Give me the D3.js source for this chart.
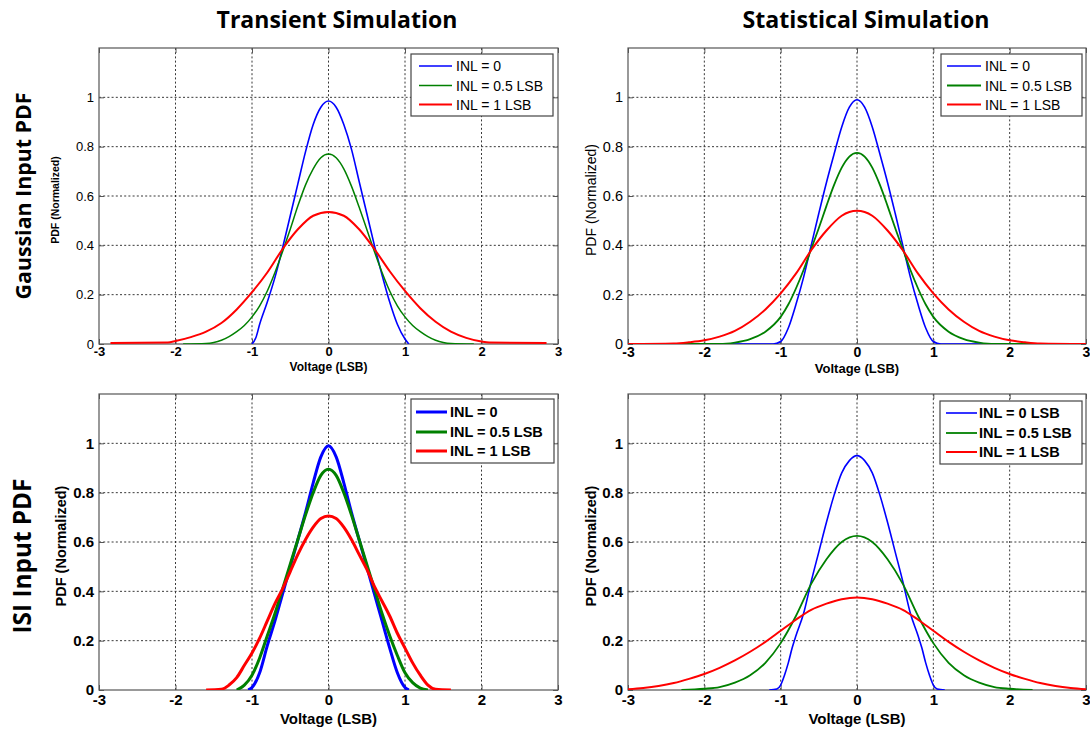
<!DOCTYPE html>
<html><head><meta charset="utf-8">
<script src="https://cdn.jsdelivr.net/npm/d3@7"></script>
<style>body{margin:0;background:#fff} svg{display:block}</style>
</head><body><svg id="c" width="1090" height="730"></svg>
<script>
// ---------- data ----------
const xTicks = [-3,-2,-1,0,1,2,3];
const xTickLabels = ["-3","-2","-1","0","1","2","3"];
const yTicks = [0,0.2,0.4,0.6,0.8,1];
const yTickLabels = ["0","0.2","0.4","0.6","0.8","1"];
const colTitles = ["Transient Simulation","Statistical Simulation"];
const rowTitles = ["Gaussian Input PDF","ISI Input PDF"];
const xAxisLabel = "Voltage (LSB)";
const yAxisLabel = "PDF (Normalized)";
const legendNames = ["INL = 0","INL = 0.5 LSB","INL = 1 LSB"];
const legendNamesISIStat = ["INL = 0 LSB","INL = 0.5 LSB","INL = 1 LSB"];
const seriesColors = ["#0000ff","#008000","#ff0000"];

// Transient simulation, Gaussian input
const tgBlue = [[-1.0,0],[-0.95,0.025],[-0.9,0.08],[-0.8,0.17],[-0.7,0.27],[-0.6,0.39],[-0.5,0.52],[-0.4,0.65],[-0.3,0.78],[-0.2,0.89],[-0.1,0.96],[0,0.985],[0.1,0.96],[0.2,0.89],[0.3,0.79],[0.4,0.66],[0.5,0.53],[0.6,0.40],[0.7,0.28],[0.8,0.17],[0.9,0.08],[1.0,0.02],[1.05,0]];
const tgGreen = [[-1.9,0],[-1.6,0.002],[-1.5,0.006],[-1.4,0.015],[-1.3,0.03],[-1.2,0.05],[-1.1,0.075],[-1.0,0.11],[-0.9,0.155],[-0.8,0.215],[-0.7,0.29],[-0.6,0.375],[-0.5,0.465],[-0.4,0.56],[-0.3,0.645],[-0.2,0.71],[-0.1,0.755],[0,0.77],[0.1,0.755],[0.2,0.71],[0.3,0.64],[0.4,0.555],[0.5,0.465],[0.6,0.375],[0.7,0.29],[0.8,0.215],[0.9,0.155],[1.0,0.11],[1.1,0.075],[1.2,0.05],[1.3,0.03],[1.4,0.015],[1.5,0.006],[1.6,0.002],[1.9,0]];
const tgRed = [[-2.85,0.004],[-2.1,0.006],[-2.0,0.012],[-1.8,0.028],[-1.6,0.05],[-1.4,0.085],[-1.2,0.14],[-1.0,0.21],[-0.8,0.29],[-0.6,0.385],[-0.4,0.465],[-0.2,0.52],[0,0.535],[0.2,0.52],[0.4,0.465],[0.6,0.385],[0.8,0.295],[1.0,0.215],[1.2,0.145],[1.4,0.09],[1.6,0.05],[1.8,0.025],[2.0,0.01],[2.1,0.006],[2.85,0.004]];

// Statistical simulation, Gaussian input
const sgBlue = [[-3,0],[-1.1,0],[-1.0,0.01],[-0.9,0.065],[-0.8,0.16],[-0.7,0.27],[-0.6,0.40],[-0.5,0.53],[-0.4,0.655],[-0.3,0.77],[-0.2,0.88],[-0.1,0.96],[0,0.99],[0.1,0.96],[0.2,0.88],[0.3,0.77],[0.4,0.655],[0.5,0.53],[0.6,0.40],[0.7,0.27],[0.8,0.16],[0.9,0.065],[1.0,0.01],[1.1,0],[3,0]];
const sgGreen = [[-3,0],[-1.8,0],[-1.6,0.006],[-1.4,0.02],[-1.2,0.05],[-1.0,0.11],[-0.9,0.16],[-0.8,0.225],[-0.7,0.30],[-0.6,0.385],[-0.5,0.47],[-0.4,0.56],[-0.3,0.645],[-0.2,0.715],[-0.1,0.76],[0,0.775],[0.1,0.76],[0.2,0.715],[0.3,0.645],[0.4,0.56],[0.5,0.47],[0.6,0.385],[0.7,0.30],[0.8,0.225],[0.9,0.16],[1.0,0.11],[1.2,0.05],[1.4,0.02],[1.6,0.006],[1.8,0],[3,0]];
const sgRed = [[-3,0],[-2.4,0.002],[-2.2,0.007],[-2.0,0.015],[-1.8,0.03],[-1.6,0.053],[-1.4,0.09],[-1.2,0.14],[-1.0,0.205],[-0.8,0.285],[-0.6,0.38],[-0.4,0.46],[-0.2,0.52],[0,0.54],[0.2,0.52],[0.4,0.46],[0.6,0.38],[0.8,0.285],[1.0,0.205],[1.2,0.14],[1.4,0.09],[1.6,0.053],[1.8,0.03],[2.0,0.015],[2.2,0.007],[2.4,0.002],[3,0]];

// Transient simulation, ISI input
const tiBlue = [[-1.05,0],[-1.0,0.01],[-0.9,0.07],[-0.8,0.18],[-0.7,0.28],[-0.6,0.39],[-0.5,0.50],[-0.4,0.61],[-0.3,0.72],[-0.2,0.84],[-0.1,0.945],[0,0.99],[0.1,0.945],[0.2,0.84],[0.3,0.72],[0.4,0.61],[0.5,0.50],[0.6,0.39],[0.7,0.28],[0.8,0.17],[0.9,0.07],[1.0,0.01],[1.05,0]];
const tiGreen = [[-1.2,0],[-1.1,0.02],[-1.0,0.06],[-0.9,0.13],[-0.8,0.22],[-0.7,0.31],[-0.6,0.41],[-0.5,0.51],[-0.4,0.61],[-0.3,0.71],[-0.2,0.80],[-0.1,0.87],[0,0.895],[0.1,0.87],[0.2,0.80],[0.3,0.71],[0.4,0.61],[0.5,0.51],[0.6,0.41],[0.7,0.31],[0.8,0.22],[0.9,0.14],[1.0,0.07],[1.1,0.03],[1.2,0.008],[1.3,0]];
const tiRed = [[-1.6,0],[-1.4,0.003],[-1.3,0.02],[-1.2,0.05],[-1.1,0.1],[-1.0,0.15],[-0.9,0.21],[-0.8,0.28],[-0.7,0.35],[-0.6,0.41],[-0.5,0.48],[-0.4,0.55],[-0.3,0.61],[-0.2,0.66],[-0.1,0.695],[0,0.705],[0.1,0.695],[0.2,0.66],[0.3,0.61],[0.4,0.55],[0.5,0.49],[0.6,0.42],[0.7,0.36],[0.8,0.30],[0.9,0.23],[1.0,0.17],[1.1,0.11],[1.2,0.06],[1.3,0.02],[1.4,0.003],[1.6,0]];

// Statistical simulation, ISI input
const siBlue = [[-1.15,0],[-1.05,0.004],[-1.0,0.02],[-0.95,0.06],[-0.9,0.11],[-0.85,0.17],[-0.8,0.22],[-0.7,0.31],[-0.6,0.44],[-0.5,0.56],[-0.4,0.68],[-0.3,0.79],[-0.2,0.88],[-0.1,0.93],[0,0.95],[0.1,0.93],[0.2,0.88],[0.3,0.79],[0.4,0.68],[0.5,0.56],[0.6,0.44],[0.7,0.31],[0.8,0.22],[0.85,0.17],[0.9,0.11],[0.95,0.06],[1.0,0.02],[1.05,0.004],[1.15,0]];
const siGreen = [[-2.3,0],[-2.0,0.005],[-1.8,0.012],[-1.6,0.03],[-1.4,0.06],[-1.2,0.11],[-1.0,0.19],[-0.8,0.30],[-0.6,0.43],[-0.4,0.53],[-0.2,0.60],[0,0.625],[0.2,0.60],[0.4,0.53],[0.6,0.43],[0.8,0.30],[1.0,0.19],[1.2,0.11],[1.4,0.06],[1.6,0.03],[1.8,0.012],[2.0,0.005],[2.3,0]];
const siRed = [[-3,0.003],[-2.8,0.008],[-2.6,0.016],[-2.4,0.028],[-2.2,0.045],[-2.0,0.065],[-1.8,0.09],[-1.6,0.12],[-1.4,0.155],[-1.2,0.195],[-1.0,0.24],[-0.8,0.285],[-0.6,0.325],[-0.4,0.35],[-0.2,0.368],[0,0.375],[0.2,0.368],[0.4,0.35],[0.6,0.325],[0.8,0.285],[1.0,0.24],[1.2,0.195],[1.4,0.155],[1.6,0.12],[1.8,0.09],[2.0,0.065],[2.2,0.045],[2.4,0.028],[2.6,0.016],[2.8,0.008],[3,0.003]];

// ---------- layout ----------
const FONT = "'Liberation Sans', Arial, sans-serif";
const panels = [
  {id:"tl", left:99, right:558, top:48, bottom:344, series:[tgBlue,tgGreen,tgRed], names:legendNames,
   widths:[1.6,1.5,2.0], xtick:{size:13,weight:"bold",pad:3}, ytick:{size:13,weight:"normal"},
   xlab:{size:12,weight:"bold",y:371}, ylab:{size:10.5,weight:"bold",x:59},
   leg:{x0:411,y0:54,x1:553,y1:116,rows:[66,85.5,104.5],l0:419,l1:452,tx:456,size:14,weight:"normal"}},
  {id:"tr", left:628, right:1086, top:48, bottom:344, series:[sgBlue,sgGreen,sgRed], names:legendNames,
   widths:[1.6,1.8,2.0], xtick:{size:14,weight:"bold",pad:3}, ytick:{size:14.5,weight:"normal"},
   xlab:{size:13,weight:"bold",y:373}, ylab:{size:14,weight:"normal",x:596},
   leg:{x0:941,y0:54,x1:1082,y1:116,rows:[66,85.5,104.5],l0:947,l1:981,tx:985,size:14,weight:"normal"}},
  {id:"bl", left:99, right:558, top:394, bottom:690, series:[tiBlue,tiGreen,tiRed], names:legendNames,
   widths:[3,3,3], xtick:{size:15,weight:"bold",pad:4}, ytick:{size:15,weight:"bold"},
   xlab:{size:15,weight:"bold",y:724}, ylab:{size:14.5,weight:"bold",x:66},
   leg:{x0:411,y0:399,x1:554,y1:463,rows:[412,432,451],l0:416,l1:447,tx:450,size:14.5,weight:"bold"}},
  {id:"br", left:628, right:1086, top:394, bottom:690, series:[siBlue,siGreen,siRed], names:legendNamesISIStat,
   widths:[1.6,1.8,2.0], xtick:{size:15,weight:"bold",pad:4}, ytick:{size:15,weight:"bold"},
   xlab:{size:15,weight:"bold",y:724}, ylab:{size:14.5,weight:"bold",x:596},
   leg:{x0:940,y0:401,x1:1082,y1:464,rows:[413,433,452],l0:946,l1:977,tx:979,size:14.5,weight:"bold"}}
];

const svg = d3.select("#c");
svg.append("rect").attr("width",1090).attr("height",730).attr("fill","#fff");

panels.forEach(p => {
  const x = d3.scaleLinear().domain([-3,3]).range([p.left,p.right]);
  const y = d3.scaleLinear().domain([0,1.2]).range([p.bottom,p.top]);
  const g = svg.append("g");

  // grid
  g.append("g").selectAll("line").data(xTicks.slice(1,-1)).join("line")
    .attr("x1",d=>x(d)).attr("x2",d=>x(d)).attr("y1",p.top).attr("y2",p.bottom)
    .attr("stroke","#222").attr("stroke-width",0.9).attr("stroke-dasharray","2,2.2");
  g.append("g").selectAll("line").data(yTicks.slice(1)).join("line")
    .attr("x1",p.left).attr("x2",p.right).attr("y1",d=>y(d)).attr("y2",d=>y(d))
    .attr("stroke","#222").attr("stroke-width",0.9).attr("stroke-dasharray","2,2.2");

  // axes (ticks inside)
  const xa = g.append("g").attr("transform",`translate(0,${p.bottom})`)
    .call(d3.axisBottom(x).tickValues(xTicks).tickFormat((d,i)=>xTickLabels[i]).tickSizeInner(-5).tickSizeOuter(0).tickPadding(p.xtick.pad));
  xa.selectAll("text").attr("font-family",FONT).attr("font-size",p.xtick.size).attr("font-weight",p.xtick.weight).attr("fill","#000");
  const ya = g.append("g").attr("transform",`translate(${p.left},0)`)
    .call(d3.axisLeft(y).tickValues(yTicks).tickFormat((d,i)=>yTickLabels[i]).tickSizeInner(-5).tickSizeOuter(0).tickPadding(5));
  ya.selectAll("text").attr("font-family",FONT).attr("font-size",p.ytick.size).attr("font-weight",p.ytick.weight).attr("fill","#000");
  g.append("g").attr("transform",`translate(0,${p.top})`)
    .call(d3.axisTop(x).tickValues(xTicks).tickFormat("").tickSizeInner(-5).tickSizeOuter(0));
  g.append("g").attr("transform",`translate(${p.right},0)`)
    .call(d3.axisRight(y).tickValues(yTicks).tickFormat("").tickSizeInner(-5).tickSizeOuter(0));
  g.selectAll(".domain").remove();
  g.selectAll(".tick line").attr("stroke","#555");

  // box
  g.append("rect").attr("x",p.left).attr("y",p.top).attr("width",p.right-p.left).attr("height",p.bottom-p.top)
    .attr("fill","none").attr("stroke","#555").attr("stroke-width",1.2);

  // curves
  const clipId = "clip-"+p.id;
  svg.append("clipPath").attr("id",clipId).append("rect")
    .attr("x",p.left).attr("y",p.top-2).attr("width",p.right-p.left).attr("height",p.bottom-p.top+2);
  const line = d3.line().x(d=>x(d[0])).y(d=>y(d[1])).curve(d3.curveMonotoneX);
  const cg = g.append("g").attr("clip-path",`url(#${clipId})`);
  p.series.forEach((s,i) => {
    cg.append("path").attr("d",line(s)).attr("fill","none")
      .attr("stroke",seriesColors[i]).attr("stroke-width",p.widths[i]).attr("stroke-linejoin","round");
  });

  // axis labels
  g.append("text").attr("x",x(0)).attr("y",p.xlab.y).attr("text-anchor","middle")
    .attr("font-family",FONT).attr("font-size",p.xlab.size).attr("font-weight",p.xlab.weight).text(xAxisLabel);
  g.append("text").attr("transform",`translate(${p.ylab.x},${(p.top+p.bottom)/2+4}) rotate(-90)`).attr("text-anchor","middle")
    .attr("font-family",FONT).attr("font-size",p.ylab.size).attr("font-weight",p.ylab.weight).text(yAxisLabel);

  // legend
  const L = p.leg;
  g.append("rect").attr("x",L.x0).attr("y",L.y0).attr("width",L.x1-L.x0).attr("height",L.y1-L.y0)
    .attr("fill","#fff").attr("stroke","#444").attr("stroke-width",1.2);
  p.names.forEach((n,i) => {
    g.append("line").attr("x1",L.l0).attr("x2",L.l1).attr("y1",L.rows[i]).attr("y2",L.rows[i])
      .attr("stroke",seriesColors[i]).attr("stroke-width",p.widths[i]);
    g.append("text").attr("x",L.tx).attr("y",L.rows[i]+5).attr("font-family",FONT)
      .attr("font-size",L.size).attr("font-weight",L.weight).attr("fill","#000").text(n);
  });
});

// column and row titles
const TFONT = "'Open Sans', Lato, sans-serif";
function fitText(sel, target) {
  const w = sel.node().getComputedTextLength();
  const fs = parseFloat(sel.attr("font-size"));
  sel.attr("font-size", fs*target/w);
}
const colCenters = [337, 866], colWidths = [241, 247];
colTitles.forEach((t,i) => {
  const s = svg.append("text").attr("x",colCenters[i]).attr("y",28).attr("text-anchor","middle")
    .attr("font-family",TFONT).attr("font-weight","bold").attr("font-size",24).text(t);
  fitText(s, colWidths[i]);
});
const rowCenters = [196, 556], rowLens = [207, 155];
rowTitles.forEach((t,i) => {
  const s = svg.append("text").attr("transform",`translate(31,${rowCenters[i]}) rotate(-90)`).attr("text-anchor","middle")
    .attr("font-family",TFONT).attr("font-weight","bold").attr("font-size",24).text(t);
  fitText(s, rowLens[i]);
});
</script>
</body></html>
